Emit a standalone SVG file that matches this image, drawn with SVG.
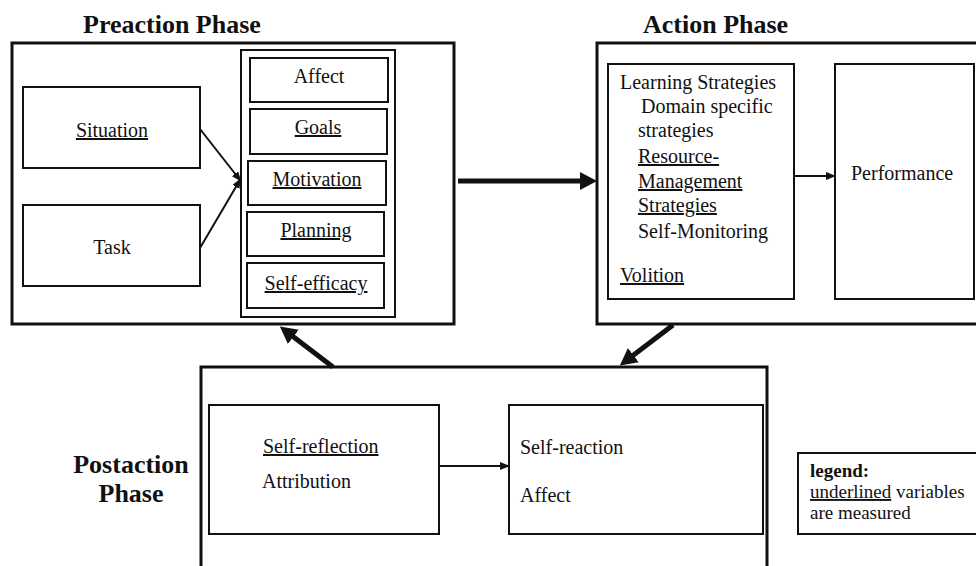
<svg xmlns="http://www.w3.org/2000/svg" width="976" height="566" viewBox="0 0 976 566">
  <style>
    .t { font-family: "Liberation Serif", "Times New Roman", serif; font-size: 20px; fill: #111; }
    .h { font-family: "Liberation Serif", "Times New Roman", serif; font-size: 26px; font-weight: bold; fill: #111; }
    .lg { font-family: "Liberation Serif", "Times New Roman", serif; font-size: 19px; fill: #111; }
    .u { text-decoration: underline; }
    .mid { text-anchor: middle; }
    .outer { fill: #fff; stroke: #111; stroke-width: 3; }
    .box { fill: #fff; stroke: #111; stroke-width: 2; }
    .thick { stroke: #111; stroke-width: 5; fill: none; }
    .thin { stroke: #111; stroke-width: 2; fill: none; }
  </style>
  <defs>
    <marker id="headBig" markerUnits="userSpaceOnUse" markerWidth="17" markerHeight="18" refX="3" refY="9" orient="auto">
      <path d="M0,0 L17,9 L0,18 z" fill="#111"/>
    </marker>
    <marker id="headSmall" markerUnits="userSpaceOnUse" markerWidth="10" markerHeight="8" refX="8" refY="4" orient="auto">
      <path d="M0,0 L10,4 L0,8 z" fill="#111"/>
    </marker>
  </defs>

  <rect width="976" height="566" fill="#fff"/>

  <!-- Preaction phase -->
  <g id="preaction">
    <text class="h" x="83" y="33">Preaction Phase</text>
    <rect class="outer" x="12" y="43" width="442" height="281"/>
  </g>
  <g id="situation">
    <rect class="box" x="23" y="87" width="177" height="81"/>
    <text class="t mid u" x="112" y="137">Situation</text>
  </g>
  <g id="task">
    <rect class="box" x="23" y="205" width="177" height="81"/>
    <text class="t mid" x="112" y="254">Task</text>
  </g>
  <g id="preaction-factors">
    <rect class="box" x="241" y="50" width="154" height="267"/>
    <g id="affect">
      <rect class="box" x="250" y="58" width="138" height="44"/>
      <text class="t mid" x="319" y="83">Affect</text>
    </g>
    <g id="goals">
      <rect class="box" x="250" y="109" width="137" height="45"/>
      <text class="t mid u" x="318" y="134">Goals</text>
    </g>
    <g id="motivation">
      <rect class="box" x="248" y="161" width="138" height="44"/>
      <text class="t mid u" x="317" y="186">Motivation</text>
    </g>
    <g id="planning">
      <rect class="box" x="247" y="212" width="137" height="44"/>
      <text class="t mid u" x="316" y="237">Planning</text>
    </g>
    <g id="self-efficacy">
      <rect class="box" x="247" y="263" width="137" height="45"/>
      <text class="t mid u" x="316" y="290">Self-efficacy</text>
    </g>
  </g>

  <!-- Action phase -->
  <g id="action">
    <text class="h" x="643" y="33">Action Phase</text>
    <rect class="outer" x="597" y="43" width="400" height="281"/>
  </g>
  <g id="strategies">
    <rect class="box" x="608" y="64" width="186" height="235"/>
    <text class="t" x="620" y="89">Learning Strategies</text>
    <text class="t" x="641" y="113">Domain specific</text>
    <text class="t" x="638" y="137">strategies</text>
    <text class="t u" x="638" y="163">Resource-</text>
    <text class="t u" x="638" y="188">Management</text>
    <text class="t u" x="638" y="212">Strategies</text>
    <text class="t" x="638" y="238">Self-Monitoring</text>
    <text class="t u" x="620" y="282">Volition</text>
  </g>
  <g id="performance">
    <rect class="box" x="835" y="64" width="139" height="235"/>
    <text class="t" x="851" y="180">Performance</text>
  </g>

  <!-- Postaction phase -->
  <g id="postaction">
    <text class="h mid" x="131" y="473">Postaction</text>
    <text class="h mid" x="131" y="502">Phase</text>
    <path class="outer" d="M201,570 V367 H767 V570"/>
  </g>
  <g id="self-reflection">
    <rect class="box" x="209" y="405" width="230" height="129"/>
    <text class="t u" x="263" y="453">Self-reflection</text>
    <text class="t" x="262" y="488">Attribution</text>
  </g>
  <g id="self-reaction">
    <rect class="box" x="509" y="405" width="254" height="129"/>
    <text class="t" x="520" y="454">Self-reaction</text>
    <text class="t" x="520" y="502">Affect</text>
  </g>

  <!-- Legend -->
  <g id="legend">
    <rect class="box" x="798" y="453" width="185" height="81" stroke-width="1.5"/>
    <text class="lg" x="810" y="477" font-weight="bold">legend:</text>
    <text class="lg" x="810" y="498"><tspan class="u">underlined</tspan> variables</text>
    <text class="lg" x="810" y="519">are measured</text>
  </g>

  <!-- Connectors -->
  <g id="connectors">
    <line class="thin" x1="200" y1="129" x2="240" y2="180" marker-end="url(#headSmall)"/>
    <line class="thin" x1="200" y1="248" x2="240" y2="180" marker-end="url(#headSmall)"/>
    <line class="thick" x1="458" y1="181" x2="583" y2="181" marker-end="url(#headBig)"/>
    <line class="thin" x1="794" y1="176" x2="834" y2="176" marker-end="url(#headSmall)"/>
    <line class="thin" x1="439" y1="466" x2="508" y2="466" marker-end="url(#headSmall)"/>
    <line class="thick" x1="333" y1="367" x2="291" y2="335" marker-end="url(#headBig)"/>
    <line class="thick" x1="673" y1="325" x2="631" y2="357" marker-end="url(#headBig)"/>
  </g>
</svg>
